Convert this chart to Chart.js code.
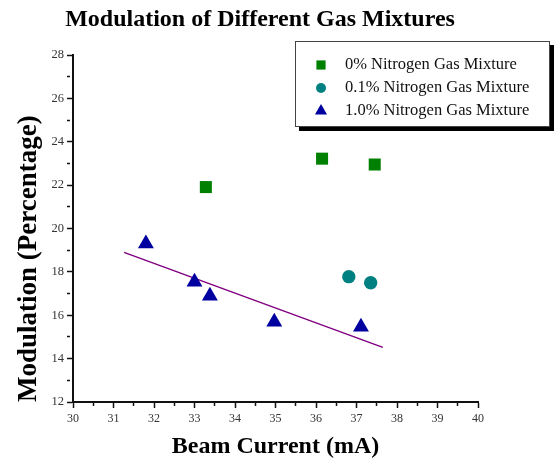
<!DOCTYPE html>
<html>
<head>
<meta charset="utf-8">
<script src="https://cdn.jsdelivr.net/npm/chart.js@4.4.1/dist/chart.umd.min.js"></script>
<style>
  html, body { margin: 0; padding: 0; background: #fff; }
  #wrap { width: 557px; height: 466px; position: relative; }
</style>
</head>
<body>
<div id="wrap"><canvas id="chart"></canvas></div>
<script>
// values
var labels = ['0% Nitrogen Gas Mixture', '0.1% Nitrogen Gas Mixture', '1.0% Nitrogen Gas Mixture'];

var current0 = [33.28, 36.15, 37.45];
var mod0 = [21.91, 23.22, 22.95];

var current01 = [36.81, 37.35];
var mod01 = [17.78, 17.50];

var current1 = [31.80, 33.00, 33.38, 34.97, 37.11];
var mod1 = [19.30, 17.54, 16.89, 15.69, 15.46];

// linear fit through the 1.0% points (end points)
var fitX = [31.26, 37.65];
var fitY = [18.90, 14.52];

function pts(xs, ys) {
    return xs.map(function (x, i) { return {x: x, y: ys[i]}; });
}

Chart.defaults.font.family = "'Liberation Serif', 'DejaVu Serif', serif";
Chart.defaults.color = '#222';

// boxed legend with a drop shadow, sitting over the top right corner
var boxLegend = {
    id: 'boxLegend',
    afterLayout: function (chart) {
        // title is centred a little left of the canvas middle
        chart.titleBlock.left += 21;
        chart.titleBlock.right += 21;
    },
    afterDatasetsDraw: function (chart) {
        var ctx = chart.ctx;
        var a = chart.chartArea;
        var x = a.right - 183, y = a.top - 14, w = 255, h = 86;
        ctx.save();
        ctx.fillStyle = '#000';
        ctx.fillRect(x + 4, y + 4, w, h);
        ctx.fillStyle = '#fff';
        ctx.fillRect(x, y, w, h);
        ctx.strokeStyle = '#444';
        ctx.lineWidth = 1;
        ctx.strokeRect(x + 0.5, y + 0.5, w - 1, h - 1);

        var marks = [
            {style: 'rect', r: 6.5, color: '#008000'},
            {style: 'circle', r: 5, color: '#008080'},
            {style: 'triangle', r: 7, color: '#0000A0'}
        ];
        ctx.font = "16.5px 'Liberation Serif', serif";
        ctx.textBaseline = 'middle';
        ctx.textAlign = 'left';
        for (var i = 0; i < labels.length; i++) {
            var ry = y + 24 + i * 23;
            ctx.fillStyle = marks[i].color;
            Chart.helpers.drawPoint(ctx, {pointStyle: marks[i].style, radius: marks[i].r, rotation: 0, borderWidth: 0}, x + 26, ry);
            ctx.fillStyle = '#111';
            ctx.fillText(labels[i], x + 50, ry);
        }
        ctx.restore();
    }
};

new Chart(document.getElementById('chart'), {
    type: 'scatter',
    data: {
        datasets: [{
            label: labels[0],
            data: pts(current0, mod0),
            pointStyle: 'rect',
            pointRadius: 8.5,
            backgroundColor: '#008000',
            borderWidth: 0
        }, {
            label: labels[1],
            data: pts(current01, mod01),
            pointStyle: 'circle',
            pointRadius: 6.7,
            backgroundColor: '#008080',
            borderWidth: 0
        }, {
            label: labels[2],
            data: pts(current1, mod1),
            pointStyle: 'triangle',
            pointRadius: 9.2,
            backgroundColor: '#0000A0',
            borderWidth: 0
        }, {
            label: 'fit',
            data: pts(fitX, fitY),
            showLine: true,
            pointRadius: 0,
            borderColor: '#800080',
            borderWidth: 1.5
        }]
    },
    plugins: [boxLegend],
    options: {
        responsive: true,
        maintainAspectRatio: false,
        animation: false,
        layout: {padding: {left: 0, right: 79, top: 0, bottom: 0}},
        plugins: {
            legend: {display: false},
            tooltip: {enabled: false},
            title: {
                display: true,
                text: 'Modulation of Different Gas Mixtures',
                color: '#000',
                font: {size: 24, weight: 'bold'},
                padding: {top: 5, bottom: 21.2}
            }
        },
        scales: {
            x: {
                type: 'linear',
                min: 30,
                max: 40,
                afterFit: function (s) { s.height = 64; s.paddingLeft = 0; s.paddingRight = 0; },
                border: {color: '#111', width: 2},
                grid: {
                    drawOnChartArea: false,
                    tickLength: 6,
                    tickWidth: 1.5,
                    tickColor: '#111',
                    tickBorderDash: function (c) { return c.tick && c.tick.value % 1 !== 0 ? [3, 10] : []; }
                },
                ticks: {
                    stepSize: 0.5,
                    autoSkip: false,
                    maxRotation: 0,
                    padding: 4,
                    font: {size: 12},
                    color: '#333',
                    callback: function (v) { return v % 1 === 0 ? v : ''; }
                },
                title: {
                    display: true,
                    text: 'Beam Current (mA)',
                    color: '#000',
                    font: {size: 24, weight: 'bold'},
                    padding: {top: 0, bottom: 5}
                }
            },
            y: {
                type: 'linear',
                min: 12,
                max: 28,
                afterFit: function (s) { s.width = 73; s.paddingTop = 0; s.paddingBottom = 0; },
                border: {color: '#111', width: 2},
                grid: {
                    drawOnChartArea: false,
                    tickLength: 6,
                    tickWidth: 1.5,
                    tickColor: '#111',
                    tickBorderDash: function (c) { return c.tick && c.tick.value % 2 !== 0 ? [3, 10] : []; }
                },
                ticks: {
                    stepSize: 1,
                    autoSkip: false,
                    padding: 3,
                    font: {size: 12.5},
                    color: '#333',
                    callback: function (v) { return v % 2 === 0 ? v : ''; }
                },
                title: {
                    display: true,
                    text: 'Modulation (Percentage)',
                    color: '#000',
                    align: 'start',
                    font: {size: 27, weight: 'bold'},
                    padding: {top: 13, bottom: 0}
                }
            }
        }
    }
});
</script>
</body>
</html>
